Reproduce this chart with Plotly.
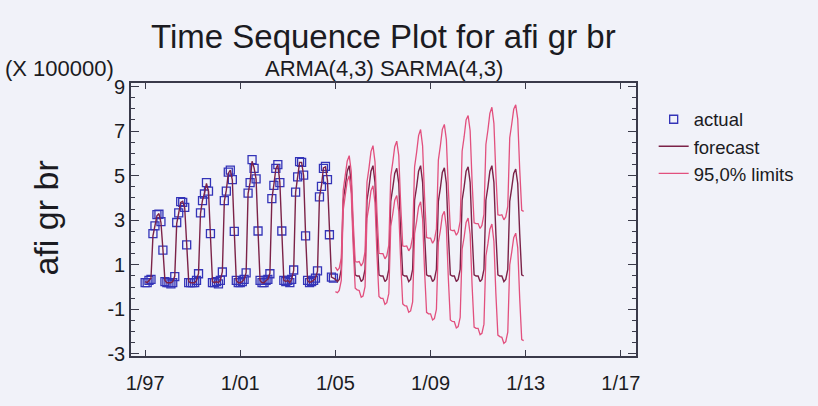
import plotly.graph_objects as go
import pandas as pd

# ---------------- data (values in units of 100000) ----------------
actual_start = "1997-01-01"
forecast_start = "2005-01-01"

actual = [
    0.20, 0.20, 0.30, 0.35, 2.40, 2.75, 3.25, 3.27, 2.94, 1.66, 0.25, 0.20,   # 1997
    0.20, 0.15, 0.20, 0.47, 2.90, 3.33, 3.84, 3.80, 3.58, 1.90, 0.20, 0.20,   # 1998
    0.20, 0.20, 0.30, 0.60, 3.33, 3.88, 4.18, 4.69, 4.31, 2.40, 0.20, 0.20,   # 1999
    0.25, 0.15, 0.30, 0.68, 3.88, 4.31, 5.16, 5.25, 4.82, 2.50, 0.30, 0.20,   # 2000
    0.20, 0.25, 0.35, 0.64, 4.22, 4.69, 5.72, 5.33, 4.86, 2.52, 0.30, 0.20,   # 2001
    0.20, 0.30, 0.35, 0.60, 3.97, 4.57, 5.33, 5.50, 4.69, 2.52, 0.30, 0.25,   # 2002
    0.30, 0.20, 0.35, 0.77, 4.26, 4.95, 5.63, 5.60, 5.03, 2.30, 0.30, 0.20,   # 2003
    0.25, 0.30, 0.40, 0.73, 4.05, 4.52, 5.33, 5.42, 4.82, 2.35, 0.45, 0.40,   # 2004
]

forecast = [
    # fitted 1997-2004
    0.25, 0.20, 0.30, 0.40, 2.30, 2.80, 3.20, 3.30, 2.90, 1.70, 0.30, 0.20,
    0.20, 0.20, 0.25, 0.50, 2.85, 3.35, 3.80, 3.85, 3.55, 1.95, 0.25, 0.20,
    0.20, 0.20, 0.30, 0.62, 3.30, 3.90, 4.20, 4.65, 4.30, 2.45, 0.25, 0.20,
    0.25, 0.20, 0.30, 0.70, 3.85, 4.35, 5.10, 5.25, 4.80, 2.50, 0.30, 0.20,
    0.20, 0.25, 0.35, 0.65, 4.20, 4.70, 5.65, 5.35, 4.85, 2.50, 0.30, 0.20,
    0.20, 0.30, 0.35, 0.62, 3.95, 4.60, 5.30, 5.50, 4.70, 2.50, 0.30, 0.25,
    0.30, 0.20, 0.35, 0.75, 4.25, 4.95, 5.60, 5.60, 5.00, 2.35, 0.30, 0.20,
    0.25, 0.30, 0.40, 0.72, 4.05, 4.55, 5.35, 5.40, 4.80, 2.35, 0.45, 0.40,
    # forecast 2005-2012
    0.35, 0.25, 0.35, 0.80, 3.90, 4.50, 5.20, 5.45, 4.70, 2.40, 0.55, 0.50,
    0.50, 0.25, 0.35, 0.80, 3.90, 4.50, 5.20, 5.45, 4.70, 2.40, 0.55, 0.50,
    0.50, 0.25, 0.35, 0.80, 3.85, 4.45, 5.10, 5.33, 4.65, 2.40, 0.55, 0.50,
    0.50, 0.25, 0.35, 0.80, 3.90, 4.50, 5.20, 5.45, 4.70, 2.40, 0.55, 0.50,
    0.50, 0.25, 0.35, 0.80, 3.85, 4.45, 5.15, 5.35, 4.65, 2.40, 0.55, 0.50,
    0.50, 0.25, 0.35, 0.80, 3.90, 4.50, 5.20, 5.40, 4.70, 2.40, 0.55, 0.50,
    0.50, 0.25, 0.35, 0.80, 3.90, 4.50, 5.20, 5.45, 4.70, 2.40, 0.55, 0.50,
    0.50, 0.25, 0.35, 0.80, 3.85, 4.45, 5.10, 5.30, 4.65, 2.40, 0.55, 0.50,
]

upper = [
    0.90, 0.75, 0.85, 1.30, 4.35, 4.95, 5.65, 5.90, 5.20, 2.95, 1.15, 1.12,   # 2005
    1.15, 0.95, 1.10, 1.58, 4.72, 5.35, 6.08, 6.35, 5.62, 3.35, 1.52, 1.50,   # 2006
    1.50, 1.27, 1.40, 1.88, 4.97, 5.61, 6.30, 6.55, 5.90, 3.68, 1.85, 1.83,   # 2007
    1.85, 1.63, 1.77, 2.26, 5.40, 6.05, 6.80, 7.07, 6.34, 4.06, 2.23, 2.20,   # 2008
    2.20, 1.97, 2.11, 2.60, 5.70, 6.35, 7.08, 7.30, 6.62, 4.40, 2.57, 2.54,   # 2009
    2.55, 2.33, 2.47, 2.96, 6.10, 6.75, 7.50, 7.70, 7.02, 4.73, 2.89, 2.85,   # 2010
    2.85, 2.63, 2.77, 3.26, 6.40, 7.05, 7.80, 8.07, 7.35, 5.08, 3.25, 3.22,   # 2011
    3.25, 3.02, 3.15, 3.62, 6.70, 7.32, 7.98, 8.18, 7.54, 5.30, 3.45, 3.40,   # 2012
]

lower = [
    -0.20, -0.25, -0.15, 0.30, 3.45, 4.05, 4.75, 5.00, 4.20, 1.85, -0.05, -0.12,
    -0.15, -0.45, -0.40, 0.02, 3.08, 3.65, 4.32, 4.55, 3.78, 1.45, -0.42, -0.50,
    -0.50, -0.77, -0.70, -0.28, 2.73, 3.29, 3.90, 4.11, 3.40, 1.12, -0.75, -0.83,
    -0.85, -1.13, -1.07, -0.66, 2.40, 2.95, 3.60, 3.83, 3.06, 0.74, -1.13, -1.20,
    -1.20, -1.47, -1.41, -1.00, 2.00, 2.55, 3.22, 3.40, 2.68, 0.40, -1.47, -1.54,
    -1.55, -1.83, -1.77, -1.36, 1.70, 2.25, 2.90, 3.10, 2.38, 0.07, -1.79, -1.85,
    -1.85, -2.13, -2.07, -1.66, 1.40, 1.95, 2.60, 2.83, 2.05, -0.28, -2.15, -2.22,
    -2.25, -2.52, -2.45, -2.02, 1.00, 1.58, 2.22, 2.42, 1.76, -0.50, -2.35, -2.40,
]

y_tick_vals = [-3, -1, 1, 3, 5, 7, 9]
y_tick_labels = ["-3", "-1", "1", "3", "5", "7", "9"]
x_tick_labels = ["1/97", "1/01", "1/05", "1/09", "1/13", "1/17"]
x_tick_dates = ["1997-01-01", "2001-01-01", "2005-01-01", "2009-01-01", "2013-01-01", "2017-01-01"]

# ---------------- derived x positions ----------------
d_actual = pd.date_range(actual_start, periods=len(actual), freq="MS").strftime("%Y-%m-%d").tolist()
d_all = pd.date_range(actual_start, periods=len(forecast), freq="MS").strftime("%Y-%m-%d").tolist()
d_fc = pd.date_range(forecast_start, periods=len(upper), freq="MS").strftime("%Y-%m-%d").tolist()

FONT = "Liberation Sans, Arial, Helvetica, sans-serif"
TXT = "#1b1b22"
AXC = "#3a3a4a"
BG = "#f1f2f9"
C_ACT = "#3434b8"
C_FC = "#7c2248"
C_LIM = "#e2507e"

fig = go.Figure()

fig.add_trace(go.Scatter(
    x=d_actual, y=actual, mode="markers", name="actual",
    marker=dict(symbol="square-open", size=8, color=C_ACT, line=dict(width=1.3, color=C_ACT)),
))
fig.add_trace(go.Scatter(
    x=d_all, y=forecast, mode="lines", name="forecast",
    line=dict(color=C_FC, width=1.4),
))
fig.add_trace(go.Scatter(
    x=d_fc, y=upper, mode="lines", name="95,0% limits", legendgroup="lim",
    line=dict(color=C_LIM, width=1.3),
))
fig.add_trace(go.Scatter(
    x=d_fc, y=lower, mode="lines", name="95,0% limits", legendgroup="lim", showlegend=False,
    line=dict(color=C_LIM, width=1.3),
))

fig.update_layout(
    width=818, height=406,
    margin=dict(l=131, r=182, t=83, b=35),
    paper_bgcolor=BG, plot_bgcolor=BG,
    font=dict(family=FONT, color=TXT, size=19),
    showlegend=True,
    legend=dict(
        x=1.035, xanchor="left", y=0.935, yanchor="top",
        bgcolor="rgba(0,0,0,0)", borderwidth=0,
        font=dict(size=18.5, color=TXT, family=FONT),
        tracegroupgap=0, itemwidth=30,
    ),
    xaxis=dict(
        type="date",
        range=["1996-05-29", "2017-08-22"],
        tickmode="array", tickvals=x_tick_dates, ticktext=x_tick_labels,
        ticks="inside", ticklen=6, tickwidth=1.2, tickcolor=AXC,
        showline=True, linecolor=AXC, linewidth=1.6, mirror="ticks",
        showgrid=False, zeroline=False,
        ticklabelstandoff=8,
        tickfont=dict(size=20, family=FONT, color=TXT),
    ),
    yaxis=dict(
        range=[-3.09, 9.16],
        tickmode="array", tickvals=y_tick_vals, ticktext=y_tick_labels,
        ticks="inside", ticklen=8, tickwidth=1.2, tickcolor=AXC,
        minor=dict(dtick=0.5, tick0=-3, ticks="inside", ticklen=4, tickwidth=1, tickcolor=AXC),
        showline=True, linecolor=AXC, linewidth=1.6, mirror="ticks",
        showgrid=False, zeroline=False,
        tickfont=dict(size=20, family=FONT, color=TXT),
    ),
    annotations=[
        dict(text="Time Sequence Plot for afi gr br", xref="paper", yref="paper",
             x=0.5, y=(371 - 34) / 288, xanchor="center", yanchor="middle",
             showarrow=False, font=dict(size=33, family=FONT, color=TXT)),
        dict(text="ARMA(4,3) SARMA(4,3)", xref="paper", yref="paper",
             x=0.5, y=(371 - 68) / 288, xanchor="center", yanchor="middle",
             showarrow=False, font=dict(size=22, family=FONT, color=TXT)),
        dict(text="(X 100000)", xref="paper", yref="paper",
             x=(3 - 131) / 505, y=(371 - 68) / 288, xanchor="left", yanchor="middle",
             showarrow=False, font=dict(size=22, family=FONT, color=TXT)),
        dict(text="afi gr br", xref="paper", yref="paper", textangle=-90,
             x=(46 - 131) / 505, y=(371 - 226) / 288, xanchor="center", yanchor="middle",
             showarrow=False, font=dict(size=34, family=FONT, color=TXT)),
    ],
)

fig.write_html("out.html")
